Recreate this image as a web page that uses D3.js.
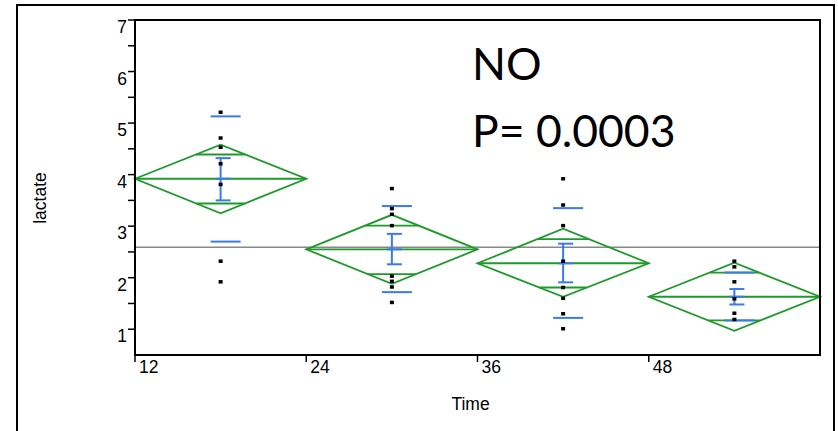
<!DOCTYPE html>
<html><head><meta charset="utf-8">
<script src="https://cdn.jsdelivr.net/npm/d3@7"></script>
<style>body{margin:0;background:#fff}svg{display:block}</style>
</head><body>
<script>
const categories = ["12", "24", "36", "48"];
const pts12 = [5.21, 4.71, 4.53, 4.21, 3.81, 2.32, 1.92];
const pts24 = [3.73, 3.34, 3.23, 3.01, 2.03, 1.93, 1.82, 1.52];
const pts36 = [3.92, 3.41, 3.01, 2.32, 1.81, 1.60, 1.30, 1.01];
const pts48 = [2.32, 2.21, 1.92, 1.59, 1.31, 1.19];
const means = [3.92, 2.55, 2.28, 1.63];
const ciUpper = [4.58, 3.22, 2.95, 2.29];
const ciLower = [3.25, 1.88, 1.63, 0.97];
const overlapUpper = [4.39, 3.01, 2.75, 2.10];
const overlapLower = [3.44, 2.07, 1.81, 1.17];
const seUpper = [4.32, 2.85, 2.66, 1.78];
const seLower = [3.50, 2.26, 1.91, 1.48];
const sdUpper = [5.13, 3.39, 3.35, 2.10];
const sdLower = [2.70, 1.72, 1.22, 1.17];
const grandMean = 2.59;
const yTicks = [1, 2, 3, 4, 5, 6, 7];
const yMinorTicks = [1.5, 2.5, 3.5, 4.5, 5.5, 6.5];
const points = [pts12, pts24, pts36, pts48];

const W = 838, H = 431;
const svg = d3.select("body").append("svg").attr("width", W).attr("height", H);
const L = 135, R = 820, T = 20, B = 355;
const x = d3.scaleBand().domain(categories).range([L, R]).padding(0);
const y = d3.scaleLinear().domain([0.5, 7]).range([B, T]);
const axisFont = "Liberation Sans, Arial, sans-serif";

// outer frame
svg.append("rect").attr("x", 17).attr("y", 5).attr("width", 817).attr("height", 440)
  .attr("fill", "none").attr("stroke", "#000").attr("stroke-width", 2);

const green = "#1e9a2a", blue = "#3a7af0";
const g = svg.append("g");

// grand mean line
g.append("line").attr("x1", L).attr("x2", R).attr("y1", y(grandMean)).attr("y2", y(grandMean))
  .attr("stroke", "#888").attr("stroke-width", 1.5);

categories.forEach((c, i) => {
  const x0 = x(c), x1 = x(c) + x.bandwidth(), cx = x(c) + x.bandwidth() / 2;
  const hw = x.bandwidth() / 2;
  const m = means[i];
  g.append("path")
    .attr("d", `M${x0},${y(m)}L${cx},${y(ciUpper[i])}L${x1},${y(m)}L${cx},${y(ciLower[i])}Z`)
    .attr("fill", "none").attr("stroke", green).attr("stroke-width", 1.8);
  g.append("line").attr("x1", x0).attr("x2", x1).attr("y1", y(m)).attr("y2", y(m))
    .attr("stroke", green).attr("stroke-width", 1.8);
  [[overlapUpper[i], ciUpper[i]], [overlapLower[i], ciLower[i]]].forEach(([v, ci]) => {
    const f = 1 - Math.abs(v - m) / Math.abs(ci - m);
    g.append("line").attr("x1", cx - hw * f).attr("x2", cx + hw * f).attr("y1", y(v)).attr("y2", y(v))
      .attr("stroke", green).attr("stroke-width", 1.8);
  });
  g.append("line").attr("x1", cx).attr("x2", cx).attr("y1", y(seUpper[i])).attr("y2", y(seLower[i]))
    .attr("stroke", blue).attr("stroke-width", 2);
  [seUpper[i], seLower[i], m].forEach(v => {
    g.append("line").attr("x1", cx - 5).attr("x2", cx + 10).attr("y1", y(v)).attr("y2", y(v))
      .attr("stroke", blue).attr("stroke-width", 2);
  });
  [sdUpper[i], sdLower[i]].forEach(v => {
    g.append("line").attr("x1", cx - 10).attr("x2", cx + 20).attr("y1", y(v)).attr("y2", y(v))
      .attr("stroke", blue).attr("stroke-width", 2);
  });
  g.selectAll(null).data(points[i]).enter().append("rect")
    .attr("x", cx - 2).attr("y", d => y(d) - 1.75).attr("width", 4).attr("height", 3.5).attr("fill", "#000");
});

// plot frame
svg.append("rect").attr("x", L).attr("y", T).attr("width", R - L).attr("height", B - T)
  .attr("fill", "none").attr("stroke", "#000").attr("stroke-width", 2);

// y axis ticks
const yAxis = svg.append("g");
yTicks.concat(yMinorTicks).forEach(t => {
  yAxis.append("line").attr("x1", L - 7).attr("x2", L).attr("y1", y(t)).attr("y2", y(t))
    .attr("stroke", "#000").attr("stroke-width", 1.5);
});
yAxis.selectAll("text").data(yTicks).enter().append("text")
  .attr("x", L - 8).attr("y", d => y(d) + 13).attr("text-anchor", "end")
  .attr("font-family", axisFont).attr("font-size", 17.5)
  .text(d => d);

// x axis ticks
const xAxis = svg.append("g");
categories.forEach(c => {
  const xx = x(c);
  xAxis.append("line").attr("x1", xx).attr("x2", xx).attr("y1", B).attr("y2", B + 7)
    .attr("stroke", "#000").attr("stroke-width", 1.5);
  xAxis.append("text").attr("x", xx + 4).attr("y", B + 18)
    .attr("font-family", axisFont).attr("font-size", 17.5).text(c);
});

// axis titles
svg.append("text").attr("x", (L + R) / 2 - 7).attr("y", 410).attr("text-anchor", "middle")
  .attr("font-family", axisFont).attr("font-size", 17.5).text("Time");
svg.append("text").attr("transform", "translate(46,198) rotate(-90)").attr("text-anchor", "middle")
  .attr("font-family", axisFont).attr("font-size", 17.5).text("lactate");

// annotation
svg.append("text").attr("x", 472).attr("y", 80)
  .attr("font-family", "Lato, 'Open Sans', sans-serif").attr("font-size", 44.5).text("NO");
svg.append("text").attr("x", 472).attr("y", 147)
  .attr("font-family", "Lato, 'Open Sans', sans-serif").attr("font-size", 44.5).text("P= 0.0003");
</script>
</body></html>
